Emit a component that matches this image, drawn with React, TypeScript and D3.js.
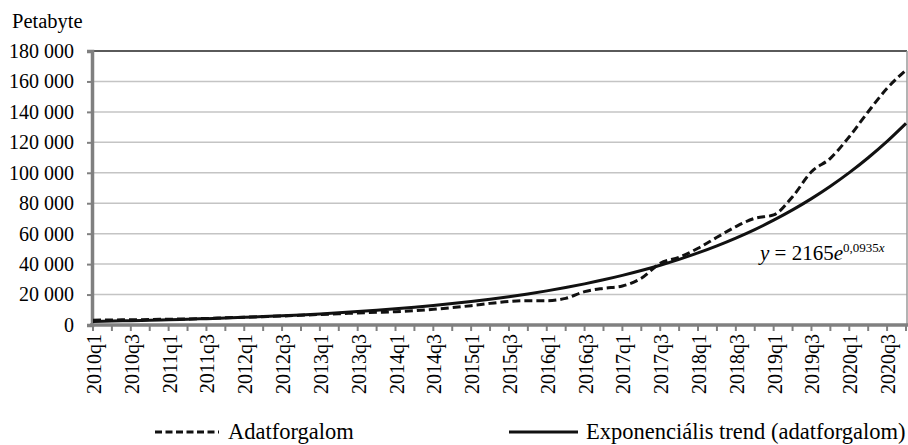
import React, { useEffect, useRef } from "react";
import * as d3 from "d3";

// quarters 2010q1 .. 2020q4
const years = d3.range(2010, 2021);
const quarters = years.flatMap((y) => [1, 2, 3, 4].map((q) => `${y}q${q}`));

// Adatforgalom (petabyte)
const traffic = [
  3200, 3300, 3450, 3600, 3800, 4000, 4300, 4700, 5100, 5500, 5900, 6400,
  6900, 7400, 7900, 8300, 8700, 9400, 10300, 11400, 12700, 14200, 15500, 16000,
  16000, 17500, 21900, 24100, 25600, 30700, 40500, 44500, 50400, 57600, 64600, 70100,
  72300, 84300, 100700, 109500, 123700, 140100, 155500, 167500,
];

// Exponenciális trend: y = 2165e^(0,0935x), x = 1..44
const trend = [
  2377, 2610, 2866, 3147, 3455, 3794, 4166, 4574, 5022, 5515, 6055, 6649,
  7300, 8016, 8802, 9665, 10612, 11652, 12794, 14048, 15425, 16937, 18597, 20420,
  22421, 24619, 27032, 29681, 32590, 35784, 39291, 43142, 47370, 52013, 57111, 62708,
  68854, 75602, 83012, 91148, 100081, 109890, 120660, 132486,
];

const yTicks = d3.range(0, 180001, 20000);

const fmt = (v: number) => d3.format(",")(v).replace(/,/g, " ");

const FONT = "Liberation Serif, DejaVu Serif, serif";

const App = () => {
  const ref = useRef<SVGSVGElement>(null);

  useEffect(() => {
    const width = 908;
    const height = 445;

    const svg = d3.select(ref.current).attr("width", width).attr("height", height);
    svg.selectAll("*").remove();

    const x = d3.scalePoint<string>().domain(quarters).range([93, 906]);
    const y = d3.scaleLinear().domain([0, 180000]).range([325, 51]);

    // gridlines
    svg
      .append("g")
      .selectAll("line")
      .data(yTicks.filter((d) => d > 0 && d < 180000))
      .join("line")
      .attr("x1", 92)
      .attr("x2", 907)
      .attr("y1", (d) => y(d))
      .attr("y2", (d) => y(d))
      .attr("stroke", "#c4c4c4")
      .attr("stroke-width", 1.5);

    // top and right frame
    svg
      .append("line")
      .attr("x1", 92)
      .attr("x2", 907)
      .attr("y1", y(180000))
      .attr("y2", y(180000))
      .attr("stroke", "#5a5a5a")
      .attr("stroke-width", 2);
    svg
      .append("line")
      .attr("x1", 907)
      .attr("x2", 907)
      .attr("y1", y(180000))
      .attr("y2", y(0))
      .attr("stroke", "#9a9a9a")
      .attr("stroke-width", 1.5);

    // y axis
    const yAxis = d3
      .axisLeft(y)
      .tickValues(yTicks)
      .tickSize(5)
      .tickPadding(13)
      .tickFormat((d) => fmt(d as number));
    svg
      .append("g")
      .attr("transform", "translate(92,0)")
      .call(yAxis)
      .attr("font-family", FONT)
      .attr("font-size", 20)
      .call((g) => g.select(".domain").attr("stroke", "#808080").attr("stroke-width", 3.5))
      .call((g) => g.selectAll(".tick line").attr("stroke", "#808080").attr("stroke-width", 2))
      .call((g) => g.selectAll(".tick text").attr("fill", "#000"));

    // x axis
    svg
      .append("g")
      .selectAll("line")
      .data(quarters)
      .join("line")
      .attr("x1", (d) => x(d)!)
      .attr("x2", (d) => x(d)!)
      .attr("y1", 325)
      .attr("y2", 331)
      .attr("stroke", "#808080")
      .attr("stroke-width", 2);
    svg
      .append("line")
      .attr("x1", 90)
      .attr("x2", 908)
      .attr("y1", 325)
      .attr("y2", 325)
      .attr("stroke", "#808080")
      .attr("stroke-width", 3.5);
    svg
      .append("g")
      .attr("font-family", FONT)
      .attr("font-size", 20)
      .selectAll("text")
      .data(quarters.filter((_, i) => i % 2 === 0))
      .join("text")
      .attr("transform", (d) => `translate(${x(d)! + 1},334) rotate(-90)`)
      .attr("text-anchor", "end")
      .attr("dy", "0.35em")
      .text((d) => d);

    // lines
    const line = d3
      .line<number>()
      .x((_, i) => x(quarters[i])!)
      .y((d) => y(d))
      .curve(d3.curveMonotoneX);

    svg
      .append("path")
      .attr("d", line(trend))
      .attr("fill", "none")
      .attr("stroke", "#111")
      .attr("stroke-width", 3);

    svg
      .append("path")
      .attr("d", line(traffic))
      .attr("fill", "none")
      .attr("stroke", "#111")
      .attr("stroke-width", 3)
      .attr("stroke-dasharray", "8,4");

    // equation
    const eq = svg
      .append("text")
      .attr("x", 760)
      .attr("y", 260)
      .attr("font-family", FONT)
      .attr("font-size", 21);
    eq.append("tspan").attr("font-style", "italic").text("y");
    eq.append("tspan").text(" = 2165");
    eq.append("tspan").attr("font-style", "italic").text("e");
    eq.append("tspan").attr("font-size", 13).attr("dy", -8).text("0,0935");
    eq.append("tspan").attr("font-size", 13).attr("font-style", "italic").text("x");

    // y title
    svg
      .append("text")
      .attr("x", 12)
      .attr("y", 28)
      .attr("font-family", FONT)
      .attr("font-size", 20.5)
      .text("Petabyte");

    // legend
    const legend = [
      { name: "Adatforgalom", x1: 155, x2: 219, tx: 228, dash: "7,3.5" },
      { name: "Exponenciális trend (adatforgalom)", x1: 509, x2: 578, tx: 586, dash: null },
    ];
    const lg = svg.append("g").selectAll("g").data(legend).join("g");
    lg.append("line")
      .attr("x1", (d) => d.x1)
      .attr("x2", (d) => d.x2)
      .attr("y1", 432)
      .attr("y2", 432)
      .attr("stroke", "#111")
      .attr("stroke-width", 3)
      .attr("stroke-dasharray", (d) => d.dash);
    lg.append("text")
      .attr("x", (d) => d.tx)
      .attr("y", 439)
      .attr("font-family", FONT)
      .attr("font-size", 22.5)
      .text((d) => d.name);
  }, []);

  return (
    <div style={{ position: "absolute", left: 0, top: 0 }}>
      <svg ref={ref}></svg>
    </div>
  );
};

export default App;
